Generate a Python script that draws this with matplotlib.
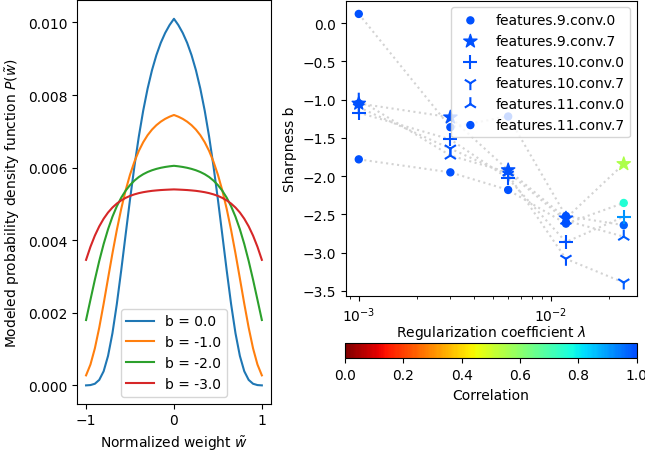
import numpy as np
import matplotlib
matplotlib.use("Agg")
import matplotlib.pyplot as plt
from matplotlib.colors import LinearSegmentedColormap, Normalize
from matplotlib.cm import ScalarMappable

# ---------------- left panel: modeled pdf curves ----------------
w_grid = [-1.0, -0.95, -0.9, -0.85, -0.8, -0.75, -0.7, -0.65, -0.6, -0.55, -0.5,
          -0.45, -0.4, -0.35, -0.3, -0.25, -0.2, -0.15, -0.1, -0.05, 0.0,
          0.05, 0.1, 0.15, 0.2, 0.25, 0.3, 0.35, 0.4, 0.45, 0.5,
          0.55, 0.6, 0.65, 0.7, 0.75, 0.8, 0.85, 0.9, 0.95, 1.0]
b_values = [0.0, -1.0, -2.0, -3.0]
pdf_b0 = [0.0000013, 0.0000096, 0.0000454, 0.000152, 0.000390, 0.000812, 0.001437,
          0.002242, 0.003170, 0.004151, 0.005122, 0.006033, 0.006853, 0.007568,
          0.008175, 0.008683, 0.009099, 0.009438, 0.009710, 0.009927, 0.0101,
          0.009927, 0.009710, 0.009438, 0.009099, 0.008683, 0.008175, 0.007568,
          0.006853, 0.006033, 0.005122, 0.004151, 0.003170, 0.002242, 0.001437,
          0.000812, 0.000390, 0.000152, 0.0000454, 0.0000096, 0.0000013]
pdf_b1 = [0.000277, 0.000576, 0.001020, 0.001592, 0.002250, 0.002947, 0.003636,
          0.004282, 0.004864, 0.005372, 0.005804, 0.006163, 0.006459, 0.006699,
          0.006893, 0.007047, 0.007169, 0.007266, 0.007343, 0.007403, 0.00745,
          0.007403, 0.007343, 0.007266, 0.007169, 0.007047, 0.006893, 0.006699,
          0.006459, 0.006163, 0.005804, 0.005372, 0.004864, 0.004282, 0.003636,
          0.002947, 0.002250, 0.001592, 0.001020, 0.000576, 0.000277]
pdf_b2 = [0.001802, 0.002360, 0.002911, 0.003429, 0.003895, 0.004301, 0.004647,
          0.004935, 0.005172, 0.005364, 0.005519, 0.005642, 0.005741, 0.005818,
          0.005879, 0.005927, 0.005965, 0.005995, 0.006018, 0.006036, 0.00605,
          0.006036, 0.006018, 0.005995, 0.005965, 0.005927, 0.005879, 0.005818,
          0.005741, 0.005642, 0.005519, 0.005364, 0.005172, 0.004935, 0.004647,
          0.004301, 0.003895, 0.003429, 0.002911, 0.002360, 0.001802]
pdf_b3 = [0.003459, 0.003819, 0.004126, 0.004382, 0.004592, 0.004763, 0.004900,
          0.005010, 0.005097, 0.005166, 0.005221, 0.005263, 0.005297, 0.005323,
          0.005343, 0.005360, 0.005372, 0.005382, 0.005389, 0.005395, 0.0054,
          0.005395, 0.005389, 0.005382, 0.005372, 0.005360, 0.005343, 0.005323,
          0.005297, 0.005263, 0.005221, 0.005166, 0.005097, 0.005010, 0.004900,
          0.004763, 0.004592, 0.004382, 0.004126, 0.003819, 0.003459]

# ---------------- right panel: sharpness vs. regularization ----------------
lambdas = [1e-3, 3e-3, 6e-3, 1.2e-2, 2.4e-2]
layer_names = ["features.9.conv.0", "features.9.conv.7", "features.10.conv.0",
               "features.10.conv.7", "features.11.conv.0", "features.11.conv.7"]
layer_markers = [".", "*", "+", "1", "2", "."]
sharp_9_0 = [0.12, -1.36, -1.22, -2.52, -2.64]
sharp_9_7 = [-1.05, -1.23, -1.92, -2.55, -1.84]
sharp_10_0 = [-1.17, -1.52, -2.03, -2.86, -2.53]
sharp_10_7 = [-1.10, -1.64, -1.98, -3.08, -3.39]
sharp_11_0 = [-1.00, -1.73, -1.95, -2.58, -2.79]
sharp_11_7 = [-1.78, -1.95, -2.18, -2.62, -2.35]
corr_9_0 = [0.99, 0.99, 0.99, 0.99, 0.97]
corr_9_7 = [0.99, 0.99, 0.99, 0.99, 0.55]
corr_10_0 = [0.99, 0.99, 0.99, 0.99, 0.91]
corr_10_7 = [0.99, 0.99, 0.99, 0.99, 0.98]
corr_11_0 = [0.99, 0.99, 0.99, 0.99, 0.98]
corr_11_7 = [0.99, 0.99, 0.99, 0.99, 0.76]

sharpness = [sharp_9_0, sharp_9_7, sharp_10_0, sharp_10_7, sharp_11_0, sharp_11_7]
correlations = [corr_9_0, corr_9_7, corr_10_0, corr_10_7, corr_11_0, corr_11_7]

# jet colormap reversed, trimmed before its darkest blue
cmap = LinearSegmentedColormap.from_list(
    "jet_trim", plt.get_cmap("jet_r")(np.linspace(0.0, 0.8, 256)))
norm = Normalize(vmin=0.0, vmax=1.0)

fig = plt.figure(figsize=(6.45, 4.56), dpi=100)

ax1 = fig.add_axes([0.1198, 0.1125, 0.2998, 0.8843])
for b, pdf in zip(b_values, [pdf_b0, pdf_b1, pdf_b2, pdf_b3]):
    ax1.plot(w_grid, pdf, label=f"b = {b}")
ax1.set_xticks([-1, 0, 1])
ax1.set_yticks([0.0, 0.002, 0.004, 0.006, 0.008, 0.010])
ax1.set_xlabel(r"Normalized weight $\tilde{w}$")
ax1.set_ylabel(r"Modeled probability density function $P(\tilde{w})$")
ax1.legend(loc="lower center")

ax2 = fig.add_axes([0.5357, 0.3487, 0.4519, 0.6480])
for name, mk, ys, cs in zip(layer_names, layer_markers, sharpness, correlations):
    ax2.plot(lambdas, ys, ls=":", color="lightgray", lw=1.5, zorder=1)
    ax2.scatter(lambdas, ys, c=cs, cmap=cmap, norm=norm, marker=mk, s=100,
                label=name, zorder=2)
ax2.set_xscale("log")
ax2.set_xlabel(r"Regularization coefficient $\lambda$", labelpad=-1)
ax2.set_ylabel("Sharpness b")
ax2.legend(loc="upper right")

cax = fig.add_axes([0.5349, 0.2121, 0.4522, 0.0329])
cb = fig.colorbar(ScalarMappable(norm=norm, cmap=cmap), cax=cax, orientation="horizontal")
cb.set_label("Correlation")

fig.savefig("out.png", dpi=100)
